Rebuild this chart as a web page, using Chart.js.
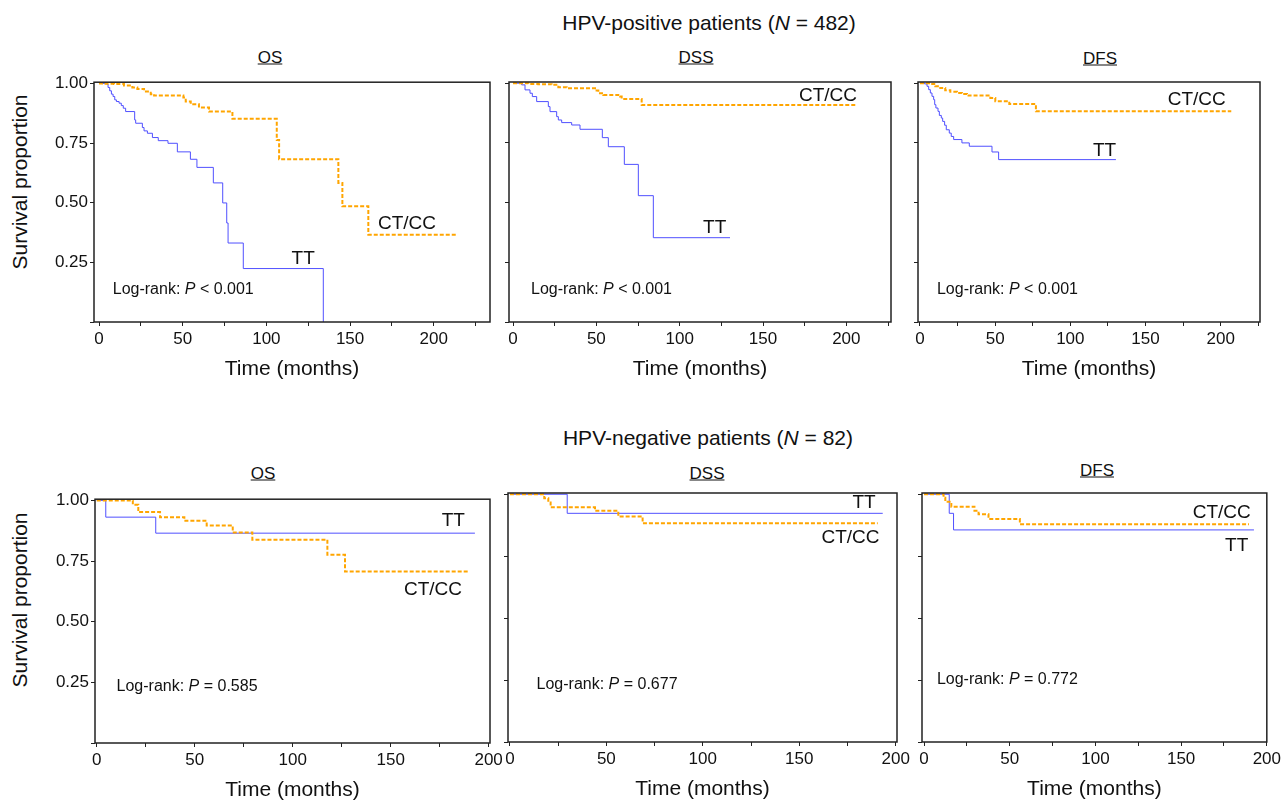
<!DOCTYPE html>
<html>
<head>
<meta charset="utf-8">
<script src="https://cdn.jsdelivr.net/npm/chart.js@4.4.1/dist/chart.umd.min.js"></script>
<style>
  html, body { margin: 0; padding: 0; background: #fff; }
  body { width: 1282px; height: 801px; position: relative; overflow: hidden; font-family: "Liberation Sans", Arial, sans-serif; color: #111; }
  canvas { position: absolute; }
  .txt { position: absolute; white-space: nowrap; line-height: 1; transform: translate(-50%, -50%); }
  .row-title { font-size: 21px; }
  .panel-title { font-size: 17px; text-decoration: underline; }
  .y-title { font-size: 21px; transform: translate(-50%, -50%) rotate(-90deg); }
</style>
</head>
<body>
<div class="txt row-title" style="left:709px;top:22px">HPV-positive patients (<i>N</i> = 482)</div>
<div class="txt row-title" style="left:708px;top:437px">HPV-negative patients (<i>N</i> = 82)</div>
<div class="txt panel-title" style="left:270px;top:57px">OS</div>
<div class="txt panel-title" style="left:696px;top:57px">DSS</div>
<div class="txt panel-title" style="left:1100px;top:58px">DFS</div>
<div class="txt panel-title" style="left:263px;top:473px">OS</div>
<div class="txt panel-title" style="left:707px;top:473px">DSS</div>
<div class="txt panel-title" style="left:1097px;top:470px">DFS</div>
<div class="txt y-title" style="left:19px;top:182px">Survival proportion</div>
<div class="txt y-title" style="left:19px;top:600px">Survival proportion</div>

<canvas id="p1"></canvas>
<canvas id="p2"></canvas>
<canvas id="p3"></canvas>
<canvas id="p4"></canvas>
<canvas id="p5"></canvas>
<canvas id="p6"></canvas>

<script>
// tick values
const xTicks = [0, 25, 50, 75, 100, 125, 150, 175, 200, 225];
const yTicks = [0, 0.25, 0.5, 0.75, 1];

// Kaplan-Meier curves, [months, survival proportion]
// HPV-positive
const posOsTt = [[0,1],[4.6,0.997],[5.4,0.983],[6.4,0.969],[7.4,0.955],[8.4,0.945],[9.4,0.931],[10.4,0.924],[12,0.917],[13.3,0.907],[14.5,0.896],[15.9,0.882],[21.3,0.847],[21.9,0.833],[25.9,0.815],[26.9,0.801],[28.9,0.791],[31.9,0.773],[35.4,0.760],[41.2,0.749],[46.8,0.713],[54.6,0.682],[58.5,0.648],[68.3,0.583],[73.9,0.499],[76.3,0.415],[77.1,0.331],[86.2,0.224],[134,0]];
const posOsCt = [[0,1],[3,0.998],[9,0.997],[14.9,0.991],[19.9,0.983],[22.9,0.977],[26.9,0.966],[30.9,0.955],[32.9,0.949],[50.4,0.941],[51.8,0.924],[54.8,0.913],[59.7,0.899],[65.7,0.882],[79.7,0.852],[106.2,0.763],[107.6,0.682],[143,0.583],[145.4,0.485],[160.9,0.366],[213.7,0.366]];
const posDssTt = [[0,1],[5.2,0.993],[7.2,0.972],[10.2,0.958],[11.6,0.944],[14.2,0.923],[21.2,0.902],[22.2,0.881],[26.2,0.860],[27.2,0.846],[29.2,0.835],[35.2,0.825],[40.2,0.807],[53.6,0.772],[57.2,0.734],[66.8,0.660],[75.2,0.529],[84.2,0.353],[130.2,0.353]];
const posDssCt = [[0,1],[9.2,0.997],[15.2,0.996],[23.2,0.993],[27.2,0.983],[32.2,0.979],[49.2,0.969],[51.2,0.958],[54.2,0.951],[64.2,0.944],[65.2,0.934],[77.2,0.909],[206.2,0.909]];
const posDfsTt = [[0,1],[3.1,0.997],[4.7,0.987],[5.8,0.973],[6.9,0.959],[8,0.945],[9.1,0.931],[9.8,0.910],[10.6,0.896],[12,0.882],[12.9,0.865],[14.2,0.854],[15.1,0.840],[16.4,0.824],[17.5,0.805],[19.5,0.791],[20.8,0.777],[22.4,0.764],[27.9,0.750],[32.8,0.736],[47.9,0.712],[52.3,0.680],[130.3,0.680]];
const posDfsCt = [[0,1],[6.9,0.997],[10.2,0.987],[13.5,0.980],[16.8,0.970],[20.2,0.964],[24.6,0.959],[27.9,0.955],[31.3,0.948],[46.8,0.938],[50.1,0.924],[59.4,0.913],[77.1,0.882],[207,0.882]];
// HPV-negative
const negOsTt = [[0,1],[4.6,0.931],[30.1,0.865],[193,0.865]];
const negOsCt = [[0,1],[18.4,0.982],[21.2,0.952],[32.3,0.931],[44.7,0.916],[56.1,0.897],[69.4,0.868],[79.4,0.838],[117.7,0.776],[126.7,0.707],[189.6,0.707]];
const negDssTt = [[0,1],[29.7,0.923],[193.3,0.923]];
const negDssCt = [[0,1],[17.8,0.984],[19.9,0.967],[21.1,0.947],[44.1,0.933],[56.2,0.910],[68.8,0.883],[190.7,0.883]];
const negDfsTt = [[0,1],[14.7,0.923],[17.2,0.856],[192.5,0.856]];
const negDfsCt = [[0,1],[11.4,0.986],[12.4,0.970],[15.9,0.950],[29.4,0.933],[31.8,0.919],[37.6,0.900],[55.9,0.879],[189.6,0.879]];

const pValues = ['< 0.001', '< 0.001', '< 0.001', '= 0.585', '= 0.677', '= 0.772'];

const FONT = '"Liberation Sans", Arial, sans-serif';
const BLUE = 'rgb(80, 80, 255)';
const ORANGE = 'rgb(255, 165, 0)';
const INK = '#111';

// plot frames in page pixels, x range in months, label anchors in data units
const panels = [
  { id: 'p1', box: { left: 94, top: 82, right: 490, bottom: 322 }, xMin: -3.0, xMax: 233.6, showY: true,
    tt: posOsTt, ct: posOsCt, p: pValues[0],
    ttLabel: [122, 0.267], ctLabel: [184, 0.41], logrank: [8.2, 0.137] },
  { id: 'p2', box: { left: 509, top: 82, right: 891, bottom: 322 }, xMin: -2.4, xMax: 226.8, showY: false,
    tt: posDssTt, ct: posDssCt, p: pValues[1],
    ttLabel: [121, 0.393], ctLabel: [189, 0.949], logrank: [10.8, 0.135] },
  { id: 'p3', box: { left: 918, top: 82, right: 1260, bottom: 322 }, xMin: -1.3, xMax: 226.1, showY: false,
    tt: posDfsTt, ct: posDfsCt, p: pValues[2],
    ttLabel: [122.7, 0.718], ctLabel: [184, 0.932], logrank: [11.3, 0.135] },
  { id: 'p4', box: { left: 95, top: 499, right: 490, bottom: 743 }, xMin: -0.9, xMax: 200.7, showY: true,
    tt: negOsTt, ct: negOsCt, p: pValues[3],
    ttLabel: [182, 0.918], ctLabel: [171.6, 0.633], logrank: [10.1, 0.231] },
  { id: 'p5', box: { left: 508, top: 493, right: 897, bottom: 742 }, xMin: -1.0, xMax: 200.7, showY: false,
    tt: negDssTt, ct: negDssCt, p: pValues[4],
    ttLabel: [183.6, 0.967], ctLabel: [176.6, 0.825], logrank: [13.8, 0.232] },
  { id: 'p6', box: { left: 922, top: 493, right: 1268, bottom: 742 }, xMin: -1.2, xMax: 200, showY: false,
    tt: negDfsTt, ct: negDfsCt, p: pValues[5],
    ttLabel: [182.4, 0.793], ctLabel: [173.7, 0.926], logrank: [7.5, 0.253] },
];

const toPoints = rows => rows.map(([x, y]) => ({ x, y }));

const framePlugin = {
  id: 'frame',
  afterDatasetsDraw(chart) {
    const { ctx, chartArea: a } = chart;
    ctx.save();
    ctx.strokeStyle = '#222';
    ctx.lineWidth = 1.5;
    ctx.strokeRect(a.left, a.top, a.right - a.left, a.bottom - a.top);
    ctx.restore();
  },
};

const textPlugin = {
  id: 'kmText',
  afterDraw(chart, args, opts) {
    const { ctx } = chart;
    const xs = chart.scales.x, ys = chart.scales.y;
    ctx.save();
    ctx.fillStyle = INK;
    ctx.textBaseline = 'middle';
    ctx.textAlign = 'center';
    ctx.font = '19px ' + FONT;
    ctx.fillText('TT', xs.getPixelForValue(opts.ttLabel[0]), ys.getPixelForValue(opts.ttLabel[1]));
    ctx.fillText('CT/CC', xs.getPixelForValue(opts.ctLabel[0]), ys.getPixelForValue(opts.ctLabel[1]));

    ctx.textAlign = 'left';
    let x = xs.getPixelForValue(opts.logrank[0]);
    const y = ys.getPixelForValue(opts.logrank[1]);
    const parts = [['Log-rank: ', ''], ['P', 'italic '], [' ' + opts.p, '']];
    for (const [s, style] of parts) {
      ctx.font = style + '16px ' + FONT;
      ctx.fillText(s, x, y);
      x += ctx.measureText(s).width;
    }
    ctx.restore();
  },
};

function makePanel(p) {
  const cv = document.getElementById(p.id);
  const yW = p.showY ? p.box.left - 40 : 6;
  const padTop = 12, padRight = 16, xH = 62;
  const left = p.box.left - yW, top = p.box.top - padTop;
  const w = p.box.right + padRight - left, h = p.box.bottom + xH - top;
  cv.width = w; cv.height = h;
  cv.style.left = left + 'px'; cv.style.top = top + 'px';
  cv.style.width = w + 'px'; cv.style.height = h + 'px';

  new Chart(cv, {
    type: 'line',
    data: {
      datasets: [
        { label: 'CT/CC', data: toPoints(p.ct), borderColor: ORANGE, borderWidth: 2, borderDash: [4, 2], stepped: true, pointRadius: 0, fill: false },
        { label: 'TT', data: toPoints(p.tt), borderColor: BLUE, borderWidth: 1, stepped: true, pointRadius: 0, fill: false },
      ],
    },
    options: {
      responsive: false,
      animation: false,
      devicePixelRatio: 1,
      layout: { padding: { top: padTop, right: padRight, left: 0, bottom: 0 } },
      plugins: {
        legend: { display: false },
        tooltip: { enabled: false },
        kmText: { ttLabel: p.ttLabel, ctLabel: p.ctLabel, logrank: p.logrank, p: p.p },
      },
      scales: {
        x: {
          type: 'linear',
          min: p.xMin,
          max: p.xMax,
          afterBuildTicks: s => { s.ticks = xTicks.filter(v => v >= s.min && v <= s.max).map(v => ({ value: v })); },
          afterFit: s => { s.height = xH; },
          grid: { drawOnChartArea: false, drawTicks: true, tickLength: 4, color: '#222' },
          border: { display: false },
          ticks: {
            color: INK, padding: 3, maxRotation: 0, autoSkip: false,
            font: { family: FONT, size: 17 },
            callback: v => (v % 50 === 0 ? String(v) : ''),
          },
          title: { display: true, text: 'Time (months)', color: INK, font: { family: FONT, size: 21 }, padding: { top: 0, bottom: 2 } },
        },
        y: {
          min: 0,
          max: 1.005,
          afterBuildTicks: s => { s.ticks = yTicks.map(v => ({ value: v })); },
          afterFit: s => { s.width = yW; },
          grid: { drawOnChartArea: false, drawTicks: true, tickLength: 4, color: '#222' },
          border: { display: false },
          ticks: {
            display: p.showY, color: INK, padding: 2,
            font: { family: FONT, size: 17 },
            callback: v => (v === 0 ? '' : v.toFixed(2)),
          },
        },
      },
    },
    plugins: [framePlugin, textPlugin],
  });
}

panels.forEach(makePanel);
</script>
</body>
</html>
